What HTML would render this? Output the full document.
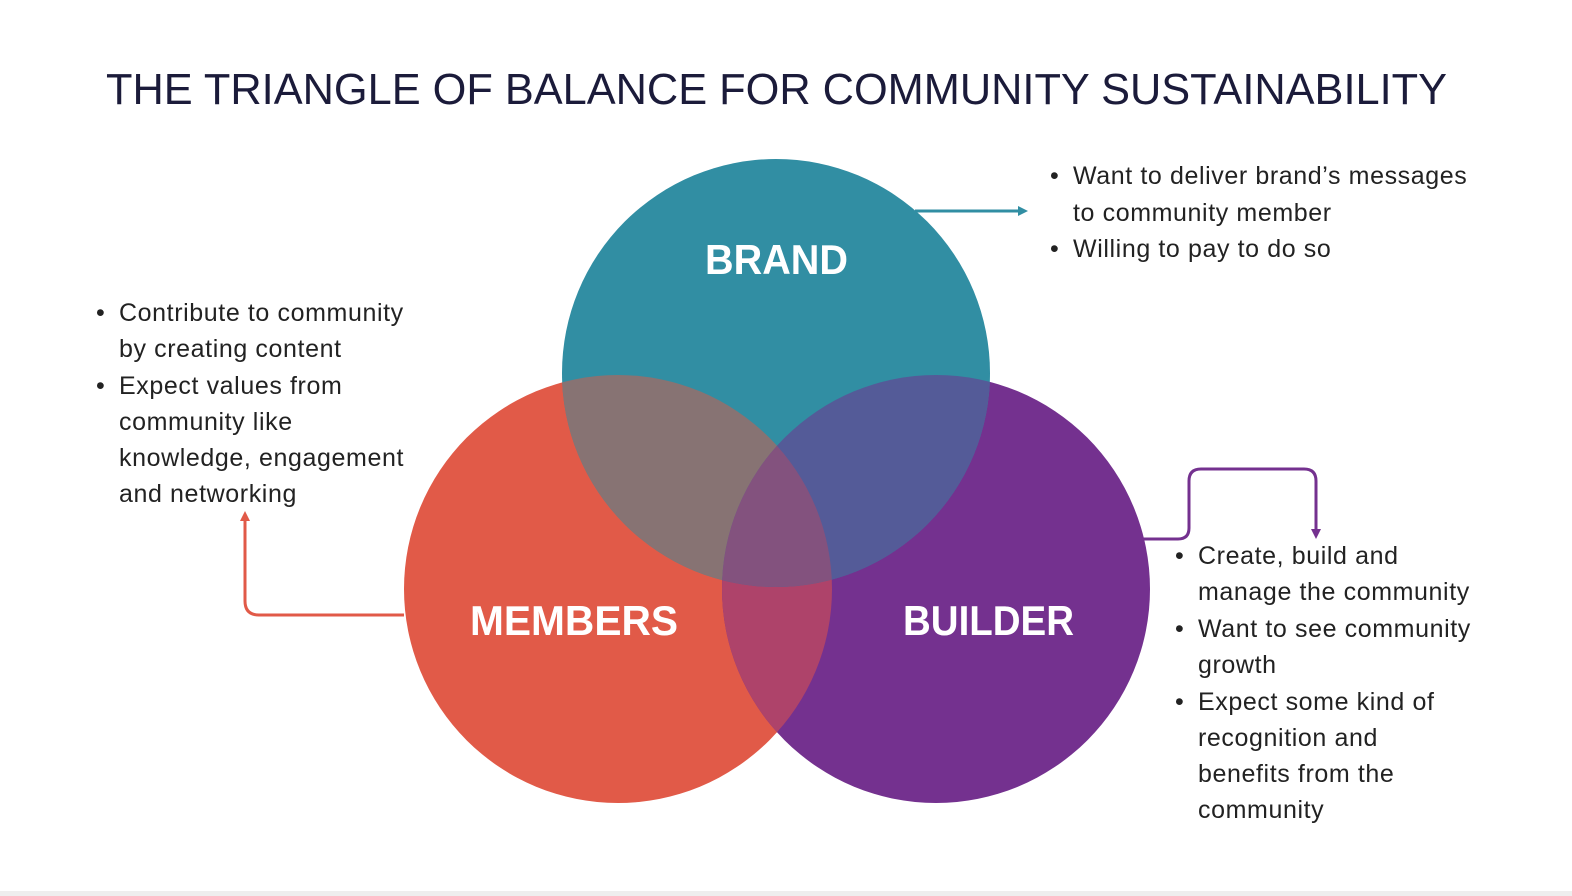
<!DOCTYPE html>
<html><head><meta charset="utf-8"><style>
html,body{margin:0;padding:0;background:#fff;}
svg{display:block}
text{font-family:"Liberation Sans",sans-serif;}
</style></head><body>
<svg width="1572" height="896" viewBox="0 0 1572 896" xmlns="http://www.w3.org/2000/svg">
<defs>
<clipPath id="cm"><circle cx="618" cy="589" r="214"/></clipPath>
<clipPath id="cb"><circle cx="936" cy="589" r="214"/></clipPath>
<marker id="at" markerWidth="10" markerHeight="10" refX="7" refY="5" orient="auto" markerUnits="userSpaceOnUse"><path d="M0,0 L10,5 L0,10 z" fill="#318EA3"/></marker>
<marker id="ap" markerWidth="10" markerHeight="10" refX="7" refY="5" orient="auto" markerUnits="userSpaceOnUse"><path d="M0,0 L10,5 L0,10 z" fill="#74318F"/></marker>
<marker id="ar" markerWidth="10" markerHeight="10" refX="7" refY="5" orient="auto" markerUnits="userSpaceOnUse"><path d="M0,0 L10,5 L0,10 z" fill="#E15A48"/></marker>
</defs>
<rect width="1572" height="896" fill="#fff"/>
<rect x="0" y="891" width="1572" height="5" fill="#eeeeee"/>
<text x="106" y="104" font-size="44" fill="#1b1b3a" textLength="1341" lengthAdjust="spacingAndGlyphs">THE TRIANGLE OF BALANCE FOR COMMUNITY SUSTAINABILITY</text>

<circle cx="618" cy="589" r="214" fill="#E15A48"/>
<circle cx="936" cy="589" r="214" fill="#74318F"/>
<circle cx="776" cy="373" r="214" fill="#318EA3"/>
<g clip-path="url(#cm)"><circle cx="936" cy="589" r="214" fill="#AE436A"/><circle cx="776" cy="373" r="214" fill="#877373"/></g>
<g clip-path="url(#cb)"><circle cx="776" cy="373" r="214" fill="#545B98"/></g>
<g clip-path="url(#cm)"><g clip-path="url(#cb)"><circle cx="776" cy="373" r="214" fill="#83527E"/></g></g>

<text x="705" y="274" font-size="42" font-weight="bold" fill="#fff" textLength="143" lengthAdjust="spacingAndGlyphs">BRAND</text>
<text x="470" y="635" font-size="42" font-weight="bold" fill="#fff" textLength="208" lengthAdjust="spacingAndGlyphs">MEMBERS</text>
<text x="903" y="635" font-size="42" font-weight="bold" fill="#fff" textLength="171" lengthAdjust="spacingAndGlyphs">BUILDER</text>

<path d="M915,211 L1025,211" stroke="#318EA3" stroke-width="3" fill="none" marker-end="url(#at)"/>
<path d="M1143,539 L1178,539 Q1189,539 1189,528 L1189,481 Q1189,469 1201,469 L1304,469 Q1316,469 1316,481 L1316,536" stroke="#74318F" stroke-width="3" fill="none" marker-end="url(#ap)"/>
<path d="M404,615 L259,615 Q245,615 245,601 L245,514" stroke="#E15A48" stroke-width="3" fill="none" marker-end="url(#ar)"/>

<g font-size="25" fill="#222" letter-spacing="0.6">
<text x="1050" y="184">•</text><text x="1073" y="184">Want to deliver brand’s messages</text>
<text x="1073" y="221">to community member</text>
<text x="1050" y="257">•</text><text x="1073" y="257">Willing to pay to do so</text>

<text x="96" y="321">•</text><text x="119" y="321">Contribute to community</text>
<text x="119" y="357">by creating content</text>
<text x="96" y="394">•</text><text x="119" y="394">Expect values from</text>
<text x="119" y="430">community like</text>
<text x="119" y="466">knowledge, engagement</text>
<text x="119" y="502">and networking</text>

<text x="1175" y="564">•</text><text x="1198" y="564">Create, build and</text>
<text x="1198" y="600">manage the community</text>
<text x="1175" y="637">•</text><text x="1198" y="637">Want to see community</text>
<text x="1198" y="673">growth</text>
<text x="1175" y="710">•</text><text x="1198" y="710">Expect some kind of</text>
<text x="1198" y="746">recognition and</text>
<text x="1198" y="782">benefits from the</text>
<text x="1198" y="818">community</text>
</g>
</svg>
</body></html>
